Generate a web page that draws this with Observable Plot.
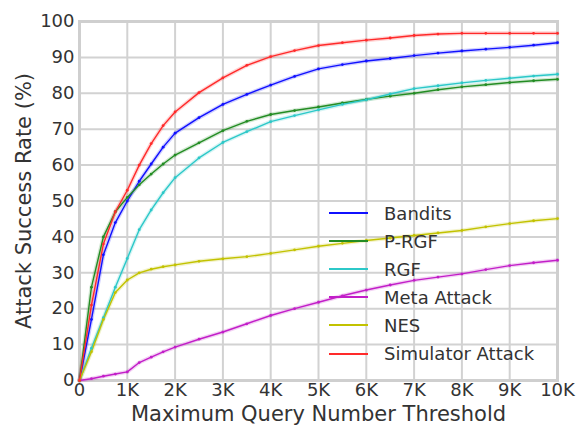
<!DOCTYPE html>
<html>
<head>
<meta charset="utf-8">
<script src="https://cdn.jsdelivr.net/npm/d3@7"></script>
<script src="https://cdn.jsdelivr.net/npm/@observablehq/plot@0.6"></script>
<style>
  body { margin: 0; background: #fff; }
  #chart { position: relative; width: 579px; height: 426px; font-family: "DejaVu Sans", sans-serif; color: #333; }
  #legend { position: absolute; left: 329px; top: 199px; }
  .row { display: flex; align-items: center; height: 28.1px; font-size: 18px; white-space: nowrap; }
  .swatch { width: 39px; height: 2px; margin-right: 16px; }
</style>
</head>
<body>
<div id="chart"><div id="legend"></div></div>
<script>
// Query budgets (x axis)
const queries = [0, 250, 500, 750, 1000, 1250, 1500, 1750, 2000, 2500, 3000, 3500, 4000, 4500, 5000, 5500, 6000, 6500, 7000, 7500, 8000, 8500, 9000, 9500, 10000];

// Attack success rate (%) per method at each query budget
const bandits    = [0, 17, 35, 44, 50, 55.5, 60.3, 65, 68.9, 73.2, 76.9, 79.7, 82.3, 84.7, 86.8, 88, 89, 89.7, 90.5, 91.2, 91.8, 92.3, 92.8, 93.4, 94.1];
const pRgf       = [0, 26, 40, 47, 51, 54.5, 57.5, 60.3, 62.8, 66.2, 69.6, 72.2, 74.1, 75.2, 76.2, 77.3, 78.3, 79.2, 80, 81, 81.8, 82.4, 83, 83.5, 83.9];
const rgf        = [0, 9, 17.5, 26, 34, 42, 47.5, 52.3, 56.5, 62, 66.3, 69.3, 72.1, 73.8, 75.4, 76.9, 78.2, 79.8, 81.3, 82.1, 82.9, 83.6, 84.2, 84.8, 85.3];
const metaAttack = [0, 0.5, 1.2, 1.8, 2.4, 5, 6.5, 8, 9.3, 11.5, 13.5, 15.8, 18.1, 20, 21.8, 23.6, 25.2, 26.6, 27.9, 28.8, 29.7, 30.9, 32, 32.8, 33.5];
const nes        = [0, 8, 17, 24.5, 28, 30, 31, 31.7, 32.2, 33.2, 33.9, 34.5, 35.4, 36.4, 37.4, 38.2, 39, 39.7, 40.4, 41.1, 41.8, 42.8, 43.7, 44.5, 45.1];
const simulator  = [0, 21, 38, 47, 53, 60, 66, 71, 74.8, 80.2, 84.3, 87.8, 90.2, 91.9, 93.3, 94.1, 94.8, 95.4, 96.1, 96.5, 96.7, 96.7, 96.7, 96.7, 96.7];

const methods = ["Bandits", "P-RGF", "RGF", "Meta Attack", "NES", "Simulator Attack"];
const colors  = ["#1010ff", "#238c23", "#2cc8c8", "#c21ec8", "#c2c200", "#ff2a2a"];
const xTicks  = [0, 1000, 2000, 3000, 4000, 5000, 6000, 7000, 8000, 9000, 10000];
const yTicks  = [0, 10, 20, 30, 40, 50, 60, 70, 80, 90, 100];
const formatK = d => d === 0 ? "0" : `${d / 1000}K`;

const seriesValues = [bandits, pRgf, rgf, metaAttack, nes, simulator];
const rows = methods.flatMap((m, i) =>
  queries.map((q, j) => ({method: m, queries: q, rate: seriesValues[i][j]}))
);

const chart = Plot.plot({
  width: 579,
  height: 426,
  marginLeft: 79,
  marginRight: 22,
  marginTop: 21,
  marginBottom: 46,
  style: {fontFamily: "DejaVu Sans, sans-serif", fontSize: "18px", color: "#333", background: "transparent"},
  x: {domain: [0, 10000]},
  y: {domain: [0, 100]},
  color: {domain: methods, range: colors},
  marks: [
    Plot.gridX(xTicks, {stroke: "#d2d2d2", strokeOpacity: 1, strokeWidth: 2}),
    Plot.gridY(yTicks, {stroke: "#d2d2d2", strokeOpacity: 1, strokeWidth: 2}),
    Plot.frame({stroke: "#cfcfcf", strokeWidth: 3}),
    Plot.axisX(xTicks, {tickSize: 0, tickPadding: 3, tickFormat: formatK, label: null, fontSize: 18}),
    Plot.axisY(yTicks, {tickSize: 0, tickPadding: 5, label: null, fontSize: 18}),
    // soft halo under each curve
    Plot.line(rows, {x: "queries", y: "rate", z: "method", stroke: "method", strokeWidth: 4, strokeOpacity: 0.2}),
    Plot.line(rows, {x: "queries", y: "rate", z: "method", stroke: "method", strokeWidth: 1.4}),
    Plot.dot(rows, {x: "queries", y: "rate", fill: "method", r: 1.4}),
    Plot.text(["Maximum Query Number Threshold"], {frameAnchor: "bottom", dy: 40, fontSize: 21, fill: "#333"}),
    Plot.text(["Attack Success Rate (%)"], {frameAnchor: "left", textAnchor: "middle", rotate: -90, dx: -55, fontSize: 21, fill: "#333"})
  ]
});

const container = document.getElementById("chart");
container.insertBefore(chart, container.firstChild);
chart.style.position = "absolute";
chart.style.left = "0";
chart.style.top = "0";

// Legend: a short swatch line and the method name per row
const legend = d3.select("#legend");
methods.forEach((m, i) => {
  const row = legend.append("div").attr("class", "row");
  row.append("div").attr("class", "swatch").style("background", colors[i]);
  row.append("span").text(m);
});
</script>
</body>
</html>
